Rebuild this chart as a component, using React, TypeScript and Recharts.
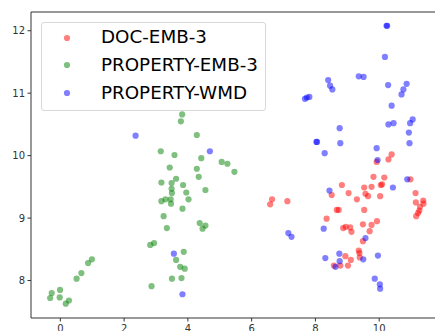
import { ReferenceLine, Scatter, ScatterChart, XAxis, YAxis } from "recharts";

const X_TICKS = [0, 2, 4, 6, 8, 10];
const Y_TICKS = [8, 9, 10, 11, 12];
const AXIS = "#333333";

// [x, y] pairs
const DOC_EMB_3: [number, number][] = [
  [6.58, 9.22], [6.64, 9.3], [7.12, 9.27], [8.51, 9.37], [8.83, 9.53], [9.04, 9.4],
  [9.3, 9.3], [9.53, 9.49], [9.57, 9.39], [9.65, 9.35], [9.76, 9.5], [9.82, 9.66],
  [10.05, 9.53], [10.09, 9.54], [10.16, 9.65], [10.03, 9.35], [9.92, 9.9], [10.29, 9.94],
  [10.39, 10.02], [10.98, 9.62], [11.14, 9.4], [11.15, 9.25], [11.38, 9.28], [11.39, 9.23],
  [11.28, 9.18], [11.26, 9.12], [11.22, 9.08], [11.16, 9.03], [8.67, 9.13], [8.73, 9.13],
  [9.53, 9.13], [8.35, 8.99], [8.87, 8.84], [8.95, 8.86], [9.09, 8.85], [9.13, 8.78],
  [9.49, 8.9], [9.76, 8.89], [9.93, 8.95], [9.7, 8.79], [9.49, 8.63], [9.36, 8.48],
  [9.38, 8.44], [9.39, 8.37], [8.94, 8.39], [9.11, 8.33], [8.58, 8.24], [8.78, 8.24],
  [9.02, 8.24],
];

const PROPERTY_EMB_3: [number, number][] = [
  [-0.32, 7.72], [-0.27, 7.8], [-0.01, 7.85], [-0.02, 7.73], [0.17, 7.63], [0.27, 7.68],
  [0.51, 8.03], [0.66, 8.12], [0.87, 8.28], [0.99, 8.34], [2.82, 8.57], [2.94, 8.6],
  [2.86, 7.91], [3.15, 10.07], [3.17, 9.57], [3.17, 9.27], [3.3, 9.3], [3.24, 9.03],
  [3.34, 8.84], [3.43, 9.81], [3.49, 9.56], [3.49, 9.47], [3.5, 9.4], [3.46, 9.3],
  [3.47, 9.23], [3.58, 10.01], [3.63, 9.63], [3.83, 9.15], [3.85, 9.53], [3.95, 9.41],
  [4.02, 9.3], [3.82, 10.66], [3.78, 10.55], [4.28, 10.33], [4.42, 9.96], [4.28, 9.79],
  [4.34, 9.66], [4.55, 9.45], [4.37, 8.92], [4.46, 8.83], [4.55, 8.88], [5.06, 9.9],
  [5.24, 9.87], [5.46, 9.74], [3.87, 8.46], [3.63, 8.33], [3.76, 8.22], [3.9, 8.19],
  [3.5, 8.03], [3.8, 8.04],
];

const PROPERTY_WMD: [number, number][] = [
  [2.36, 10.32], [4.69, 10.07], [3.56, 8.43], [3.83, 7.78], [7.67, 10.91], [7.73, 10.93],
  [7.81, 10.94], [8.03, 10.22], [8.05, 10.22], [8.4, 11.21], [8.46, 11.12], [8.53, 11.06],
  [9.36, 11.27], [9.51, 11.26], [10.23, 12.08], [10.25, 12.08], [10.18, 11.58], [10.28, 11.13],
  [10.86, 11.15], [10.76, 11.06], [10.7, 10.98], [10.39, 10.8], [8.76, 10.44], [8.78, 10.2],
  [8.29, 10.04], [9.92, 10.12], [9.95, 9.93], [10.29, 10.5], [10.45, 10.52], [11.05, 10.58],
  [10.97, 10.52], [10.93, 10.37], [10.95, 10.2], [10.88, 9.62], [10.43, 9.49], [8.44, 9.44],
  [7.15, 8.76], [7.25, 8.7], [8.26, 8.83], [9.57, 8.68], [8.31, 8.36], [8.75, 8.43],
  [8.76, 8.31], [8.63, 8.22], [9.5, 8.34], [9.96, 8.4], [9.86, 8.03], [10.02, 7.94],
  [10.03, 7.87],
];

const SERIES = [
  { name: "DOC-EMB-3", color: "#ff0000", points: DOC_EMB_3 },
  { name: "PROPERTY-EMB-3", color: "#008000", points: PROPERTY_EMB_3 },
  { name: "PROPERTY-WMD", color: "#0000ff", points: PROPERTY_WMD },
];

const toRows = (pts: [number, number][]) => pts.map(([x, y]) => ({ x, y }));

const dot = (color: string) => (props: any) => (
  <circle cx={props.cx} cy={props.cy} r={3.1} fill={color} fillOpacity={0.5} />
);

function LegendBox() {
  return (
    <div
      style={{
        position: "absolute",
        left: 41,
        top: 22,
        width: 223,
        height: 87,
        border: "1px solid #d8d8d8",
        borderRadius: 3,
        background: "rgba(255,255,255,0.8)",
        fontFamily: "DejaVu Sans",
        fontSize: 18.3,
        color: "#000",
      }}
    >
      {SERIES.map((s, i) => (
        <div
          key={s.name}
          style={{ position: "absolute", left: 0, top: 1.5 + i * 27.8, height: 24, display: "flex", alignItems: "center" }}
        >
          <svg width={59} height={24} style={{ flex: "none" }}>
            <circle cx={25} cy={13} r={3.1} fill={s.color} fillOpacity={0.5} />
          </svg>
          <span style={{ whiteSpace: "nowrap" }}>{s.name}</span>
        </div>
      ))}
    </div>
  );
}

export default function App() {
  return (
    <div style={{ position: "absolute", left: 0, top: 0, width: 435, height: 331, overflow: "hidden" }}>
      <ScatterChart width={435} height={331} margin={{ top: 12, right: 0, bottom: 0, left: 0 }}>
        <XAxis
          type="number"
          dataKey="x"
          domain={[-0.92, 11.75]}
          ticks={X_TICKS}
          allowDataOverflow
          height={13}
          stroke={AXIS}
          tickSize={3.5}
          tickMargin={3}
          tick={{ fontSize: 10, fontFamily: "DejaVu Sans", fill: AXIS }}
        />
        <YAxis
          type="number"
          dataKey="y"
          domain={[7.4, 12.3]}
          ticks={Y_TICKS}
          allowDataOverflow
          width={31}
          stroke={AXIS}
          tickSize={3.5}
          tickMargin={2.5}
          tick={{ fontSize: 10, fontFamily: "DejaVu Sans", fill: AXIS }}
        />
        <ReferenceLine y={12.3} stroke={AXIS} strokeWidth={1} />
        {SERIES.map((s) => (
          <Scatter
            key={s.name}
            name={s.name}
            data={toRows(s.points)}
            shape={dot(s.color)}
            isAnimationActive={false}
          />
        ))}
      </ScatterChart>
      <LegendBox />
    </div>
  );
}
